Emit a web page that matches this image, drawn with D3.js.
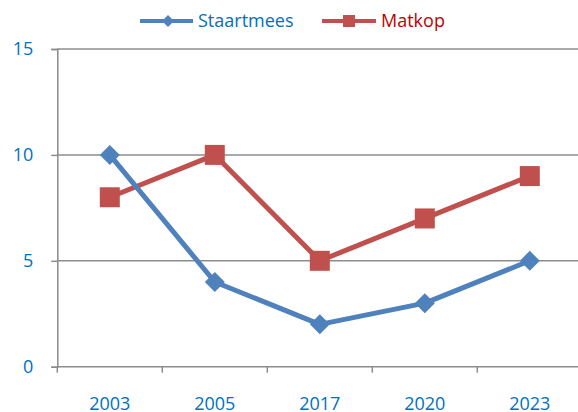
<!DOCTYPE html>
<html>
<head>
<meta charset="utf-8">
<script src="https://d3js.org/d3.v7.min.js"></script>
<style>
  body { margin: 0; background: #fff; }
  text { font-family: "Open Sans", sans-serif; }
</style>
</head>
<body>
<div id="chart"></div>
<script>
// data
var years = ["2003", "2005", "2017", "2020", "2023"];
var staartmees = [10, 4, 2, 3, 5];
var matkop = [8, 10, 5, 7, 9];
var yTicks = [0, 5, 10, 15];

var W = 578, H = 412;
var plotLeft = 57.3, plotTop = 49, plotBottom = 366.7, band = 105;

var svg = d3.select("#chart").append("svg")
  .attr("width", W)
  .attr("height", H);

var x = d3.scaleBand()
  .domain(years)
  .range([plotLeft, plotLeft + band * years.length])
  .padding(0);

var y = d3.scaleLinear()
  .domain([0, 15])
  .range([plotBottom, plotTop]);

// gridlines
svg.append("g").selectAll("line")
  .data(yTicks.filter(function(d) { return d > 0; }))
  .enter().append("line")
    .attr("x1", plotLeft)
    .attr("x2", W)
    .attr("y1", function(d) { return y(d); })
    .attr("y2", function(d) { return y(d); })
    .attr("stroke", "#8c8c8c")
    .attr("stroke-width", 1.5);

// y axis
var yAxis = svg.append("g")
  .attr("transform", "translate(" + plotLeft + ",0)")
  .call(d3.axisLeft(y).tickValues(yTicks).tickSize(6).tickPadding(18).tickFormat(d3.format("d")));
yAxis.select(".domain").attr("stroke", "#8c8c8c").attr("stroke-width", 1.5);
yAxis.selectAll(".tick line").attr("stroke", "#8c8c8c").attr("stroke-width", 1.5);
yAxis.selectAll("text")
  .attr("fill", "#0070C0")
  .style("font-size", "18px")
  .style("font-family", "'Open Sans', sans-serif");

// x axis
var xAxis = svg.append("g")
  .attr("transform", "translate(0," + plotBottom + ")");
xAxis.append("line")
  .attr("x1", plotLeft).attr("x2", W)
  .attr("y1", 0).attr("y2", 0)
  .attr("stroke", "#8c8c8c").attr("stroke-width", 1.5);
xAxis.selectAll(".xt")
  .data(years)
  .enter().append("line")
    .attr("class", "xt")
    .attr("x1", function(d) { return x(d); })
    .attr("x2", function(d) { return x(d); })
    .attr("y1", 0).attr("y2", 6)
    .attr("stroke", "#8c8c8c").attr("stroke-width", 1.5);
xAxis.selectAll(".xl")
  .data(years)
  .enter().append("text")
    .attr("class", "xl")
    .attr("x", function(d) { return x(d) + x.bandwidth() / 2; })
    .attr("y", 43)
    .attr("text-anchor", "middle")
    .attr("fill", "#0070C0")
    .style("font-size", "18px")
    .text(function(d) { return d; });

var cx = function(d, i) { return x(years[i]) + x.bandwidth() / 2; };

var line = d3.line()
  .x(function(d, i) { return x(years[i]) + x.bandwidth() / 2; })
  .y(function(d) { return y(d); });

var blue = "#4F81BD", red = "#C0504D";

// Matkop line
svg.append("path")
  .datum(matkop)
  .attr("d", line)
  .attr("fill", "none")
  .attr("stroke", red)
  .attr("stroke-width", 5)
  .attr("stroke-linejoin", "round");

// Staartmees line
svg.append("path")
  .datum(staartmees)
  .attr("d", line)
  .attr("fill", "none")
  .attr("stroke", blue)
  .attr("stroke-width", 5)
  .attr("stroke-linejoin", "round");

// Matkop markers
svg.selectAll(".sq")
  .data(matkop)
  .enter().append("rect")
    .attr("class", "sq")
    .attr("x", function(d, i) { return cx(d, i) - 10; })
    .attr("y", function(d) { return y(d) - 10; })
    .attr("width", 20)
    .attr("height", 20)
    .attr("fill", red);

// Staartmees markers
svg.selectAll(".dm")
  .data(staartmees)
  .enter().append("path")
    .attr("class", "dm")
    .attr("d", function(d, i) {
      var px = cx(d, i), py = y(d), r = 10;
      return "M" + px + "," + (py - r) + "L" + (px + r) + "," + py +
             "L" + px + "," + (py + r) + "L" + (px - r) + "," + py + "Z";
    })
    .attr("fill", blue);

// legend
var lg = svg.append("g").attr("transform", "translate(0,21)");
lg.append("line").attr("x1", 140).attr("x2", 193).attr("y1", 0).attr("y2", 0)
  .attr("stroke", blue).attr("stroke-width", 4);
lg.append("path").attr("d", "M168,-6L174,0L168,6L162,0Z").attr("fill", blue);
lg.append("text").attr("x", 198).attr("y", 0).attr("dy", "0.35em")
  .attr("fill", "#0070C0").style("font-size", "18px").text("Staartmees");

lg.append("line").attr("x1", 322).attr("x2", 376).attr("y1", 0).attr("y2", 0)
  .attr("stroke", red).attr("stroke-width", 4);
lg.append("rect").attr("x", 343).attr("y", -6).attr("width", 12).attr("height", 12).attr("fill", red);
lg.append("text").attr("x", 381).attr("y", 0).attr("dy", "0.35em")
  .attr("fill", "#C00000").style("font-size", "18px").text("Matkop");
</script>
</body>
</html>
